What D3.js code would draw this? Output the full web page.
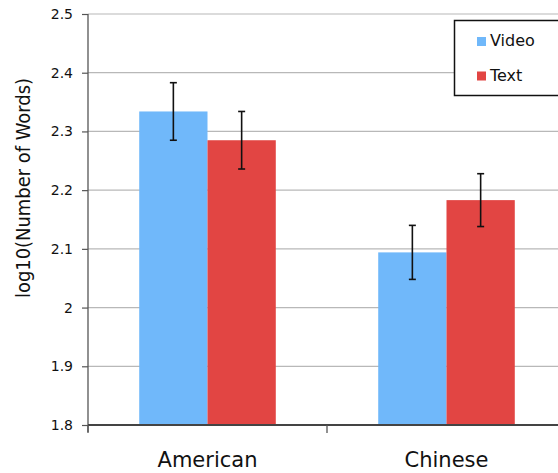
<!DOCTYPE html>
<html>
<head>
<meta charset="utf-8">
<script src="https://cdn.jsdelivr.net/npm/d3@7/dist/d3.min.js"></script>
<style>
  html, body { margin: 0; padding: 0; background: #fff; }
  svg { display: block; font-family: "DejaVu Sans", Verdana, sans-serif; }
</style>
</head>
<body>
<svg id="chart" width="558" height="473"></svg>
<script>
// Mean log10 word counts by group and condition, with error bar half-widths
const groups = ["American", "Chinese"];
const series = ["Video", "Text"];
const videoValues = [2.334, 2.094];
const textValues = [2.285, 2.183];
const videoErrors = [0.049, 0.046];
const textErrors = [0.049, 0.045];
const yTicks = [1.8, 1.9, 2, 2.1, 2.2, 2.3, 2.4, 2.5];
const colors = { Video: "#70b8fa", Text: "#e24543" };

const rows = [];
groups.forEach((g, i) => {
  rows.push({ group: g, series: "Video", value: videoValues[i], err: videoErrors[i] });
  rows.push({ group: g, series: "Text", value: textValues[i], err: textErrors[i] });
});

const svg = d3.select("#chart");
const plotLeft = 88, plotRight = 566, plotTop = 14, plotBottom = 425;

const x0 = d3.scaleBand().domain(groups).range([plotLeft, plotRight]).paddingInner(0).paddingOuter(0);
const x1 = d3.scaleBand().domain(series).range([0, x0.bandwidth()]).paddingInner(0).paddingOuter(0.75);
const y = d3.scaleLinear().domain([1.8, 2.5]).range([plotBottom, plotTop]);

// horizontal gridlines
svg.append("g")
  .selectAll("line")
  .data(yTicks.filter(t => t > 1.8))
  .join("line")
  .attr("x1", plotLeft).attr("x2", 558)
  .attr("y1", d => y(d)).attr("y2", d => y(d))
  .attr("stroke", "#b8b8b8").attr("stroke-width", 1.2);

// bars
svg.append("g")
  .selectAll("rect")
  .data(rows)
  .join("rect")
  .attr("x", d => x0(d.group) + x1(d.series))
  .attr("width", x1.bandwidth())
  .attr("y", d => y(d.value))
  .attr("height", d => y(1.8) - y(d.value))
  .attr("fill", d => colors[d.series]);

// error bars
const eb = svg.append("g").attr("stroke", "#111").attr("stroke-width", 1.6);
rows.forEach(d => {
  const cx = x0(d.group) + x1(d.series) + x1.bandwidth() / 2;
  const yt = y(d.value + d.err), yb = y(d.value - d.err);
  eb.append("line").attr("x1", cx).attr("x2", cx).attr("y1", yt).attr("y2", yb);
  eb.append("line").attr("x1", cx - 3.5).attr("x2", cx + 3.5).attr("y1", yt).attr("y2", yt);
  eb.append("line").attr("x1", cx - 3.5).attr("x2", cx + 3.5).attr("y1", yb).attr("y2", yb);
});

// y axis
const yAxis = svg.append("g")
  .attr("transform", `translate(${plotLeft},0)`)
  .call(d3.axisLeft(y).tickValues(yTicks).tickFormat(d3.format("")).tickSize(6).tickSizeOuter(0));
yAxis.select(".domain").remove();
yAxis.append("line").attr("x1", 0).attr("x2", 0).attr("y1", plotTop).attr("y2", plotBottom + 7)
  .attr("stroke", "#555").attr("stroke-width", 1.3);
yAxis.selectAll(".tick line").attr("stroke", "#555").attr("stroke-width", 1.2);
yAxis.selectAll(".tick text")
  .attr("x", -15)
  .attr("fill", "#111")
  .style("font-size", "14px")
  .style("font-family", "DejaVu Sans, Verdana, sans-serif");

// x axis
svg.append("line").attr("x1", plotLeft).attr("x2", 558).attr("y1", plotBottom).attr("y2", plotBottom)
  .attr("stroke", "#444").attr("stroke-width", 2);
const xBounds = [plotLeft, x0("Chinese"), plotRight];
svg.append("g").selectAll("line").data(xBounds).join("line")
  .attr("x1", d => d).attr("x2", d => d)
  .attr("y1", plotBottom).attr("y2", plotBottom + 8)
  .attr("stroke", "#555").attr("stroke-width", 1.3);

svg.append("g").selectAll("text").data(groups).join("text")
  .attr("x", d => x0(d) + x0.bandwidth() / 2)
  .attr("y", 467)
  .attr("text-anchor", "middle")
  .attr("fill", "#111")
  .style("font-size", "21px")
  .text(d => d);

// y axis title
svg.append("text")
  .attr("transform", "translate(30,188) rotate(-90)")
  .attr("text-anchor", "middle")
  .attr("fill", "#111")
  .attr("textLength", 220)
  .attr("lengthAdjust", "spacingAndGlyphs")
  .style("font-size", "20px")
  .text("log10(Number of Words)");

// legend
const legend = svg.append("g");
legend.append("rect")
  .attr("x", 454.5).attr("y", 20.5).attr("width", 120).attr("height", 75)
  .attr("fill", "#fff").attr("stroke", "#111").attr("stroke-width", 1.5);
series.forEach((s, i) => {
  const ly = 46 + i * 34.5;
  legend.append("rect").attr("x", 477).attr("y", ly - 9).attr("width", 9).attr("height", 9)
    .attr("fill", colors[s]);
  legend.append("text").attr("x", 490).attr("y", ly)
    .attr("fill", "#111").style("font-size", "16px").text(s);
});
</script>
</body>
</html>
